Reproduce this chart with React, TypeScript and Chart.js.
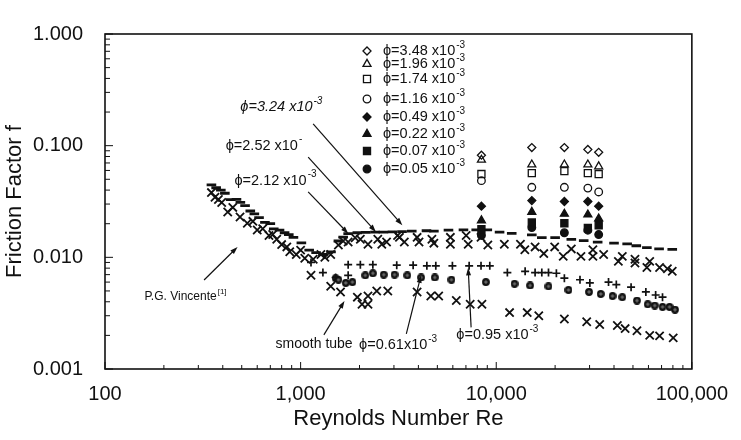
import { useEffect, useRef } from "react";
import { Chart, registerables } from "chart.js";
import { drawPoint } from "chart.js/helpers";

Chart.register(...registerables);

const FONT = "'Liberation Sans', Arial, Helvetica, sans-serif";
const INK = "#111";

// Axis ticks
const X_TICKS = [100, 1000, 10000, 100000];
const Y_TICKS = [0.001, 0.01, 0.1, 1];

// Upper curve drawn as short dash markers
const DASH_RE = [350, 370, 391, 410, 439, 470, 492, 520, 553, 580, 613, 657, 700, 729, 780, 828, 870, 919, 1009, 1106, 1200, 1300, 1430, 1560, 1650, 1750, 1950, 2150, 2400, 2650, 2950, 3300, 3700, 4400, 4800, 5700, 6800, 7900, 9000, 10400, 12000, 15200, 17100, 20000, 24200, 28000, 33000, 40000, 46700, 52000, 58900, 68000, 79400];
const DASH_F = [0.0445, 0.042, 0.04, 0.0375, 0.0329, 0.033, 0.031, 0.029, 0.026, 0.0245, 0.0227, 0.0206, 0.02, 0.018, 0.0175, 0.0166, 0.016, 0.0151, 0.0135, 0.0116, 0.011, 0.0106, 0.0112, 0.014, 0.0152, 0.0163, 0.0166, 0.0167, 0.0168, 0.0168, 0.0169, 0.017, 0.0172, 0.0173, 0.0172, 0.0175, 0.0176, 0.0176, 0.0176, 0.0168, 0.0164, 0.0159, 0.015, 0.015, 0.0145, 0.0141, 0.0137, 0.0134, 0.0132, 0.0127, 0.0122, 0.0119, 0.0118];

// Upper band of x markers
const XUP_RE = [350, 365, 380, 395, 424, 450, 490, 534, 570, 600, 640, 689, 720, 755, 800, 850, 880, 950, 1000, 1050, 1160, 1270, 1330, 1425, 1560, 1650, 1750, 1900, 2020, 2210, 2480, 2600, 2750, 3130, 3200, 3390, 3940, 4030, 4690, 4800, 5830, 5830, 7020, 7190, 8360, 9060, 11000, 13300, 14000, 15800, 17500, 19900, 22000, 24200, 27100, 31200, 31200, 35400, 42100, 44100, 51200, 51200, 58900, 60900, 68400, 75000, 79400];
const XUP_F = [0.038, 0.0345, 0.033, 0.031, 0.0255, 0.028, 0.023, 0.0202, 0.021, 0.0176, 0.018, 0.0157, 0.016, 0.0145, 0.013, 0.0124, 0.0112, 0.0106, 0.0116, 0.0098, 0.0096, 0.0106, 0.01, 0.0106, 0.0129, 0.014, 0.0137, 0.015, 0.0145, 0.0131, 0.0145, 0.0131, 0.0137, 0.0157, 0.0151, 0.0137, 0.0151, 0.0137, 0.0145, 0.0134, 0.0151, 0.0131, 0.0157, 0.0131, 0.0151, 0.0129, 0.0131, 0.0131, 0.0117, 0.0124, 0.0108, 0.0124, 0.0102, 0.0119, 0.0102, 0.0117, 0.0102, 0.0106, 0.0092, 0.0102, 0.0096, 0.0089, 0.0081, 0.0092, 0.0081, 0.0079, 0.0075];

// Middle band of + markers
const PLUS_RE = [1130, 1300, 1510, 1750, 1750, 2020, 2340, 3100, 3760, 4420, 4910, 5970, 7270, 8360, 9270, 11400, 14050, 15800, 17100, 18500, 20300, 22300, 26800, 30100, 37500, 41100, 48900, 58200, 65300, 70800];
const PLUS_F = [0.009, 0.0073, 0.0066, 0.0086, 0.0069, 0.0086, 0.0086, 0.0085, 0.0085, 0.0084, 0.0084, 0.0084, 0.0084, 0.0084, 0.0084, 0.0073, 0.0075, 0.0073, 0.0073, 0.0073, 0.0072, 0.0065, 0.0063, 0.0059, 0.006, 0.0057, 0.0054, 0.0049, 0.0046, 0.0044];

// Middle band of crossed dot markers
const BLOB_RE = [1510, 1560, 1700, 1840, 2140, 2340, 2660, 3020, 3510, 4130, 4850, 5900, 8850, 12400, 14900, 18500, 23400, 29800, 34200, 39300, 44100, 52400, 59500, 64600, 70800, 76900, 82000];
const BLOB_F = [0.0065, 0.0063, 0.0059, 0.006, 0.0069, 0.0072, 0.007, 0.007, 0.0069, 0.0066, 0.0066, 0.0063, 0.006, 0.0058, 0.0056, 0.0055, 0.0051, 0.0049, 0.0047, 0.0045, 0.0044, 0.0041, 0.0038, 0.0037, 0.0036, 0.0036, 0.0034];

// Lower band of x markers
const XLOW_RE = [1130, 1425, 1600, 1950, 2060, 2210, 2210, 2450, 2790, 3940, 4630, 5080, 6250, 7360, 8450, 11700, 14400, 16500, 22300, 29000, 33800, 41600, 45600, 52400, 60900, 68400, 80300];
const XLOW_F = [0.0069, 0.0055, 0.0049, 0.0044, 0.0038, 0.0038, 0.0045, 0.005, 0.005, 0.0049, 0.0045, 0.0045, 0.0041, 0.0038, 0.0038, 0.0032, 0.0032, 0.003, 0.0028, 0.00265, 0.0025, 0.00245, 0.0023, 0.0022, 0.002, 0.00198, 0.0019];

// Volume-fraction series, measured at five Reynolds numbers
const PHI_RE = [8400, 15200, 22300, 29400, 33400];
const PHI_348 = [0.0822, 0.0962, 0.0962, 0.0925, 0.0872];
const PHI_196 = [0.0746, 0.0677, 0.0677, 0.0677, 0.0651];
const PHI_174 = [0.0557, 0.0568, 0.0591, 0.0568, 0.0557];
const PHI_116 = [0.0486, 0.0424, 0.0424, 0.0417, 0.0385];
const PHI_049 = [0.0287, 0.0322, 0.0316, 0.0316, 0.0287];
const PHI_022 = [0.0214, 0.0255, 0.0245, 0.0241, 0.0222];
const PHI_007 = [0.0179, 0.0205, 0.0202, 0.0183, 0.0194];
const PHI_005 = [0.0157, 0.0185, 0.0166, 0.0175, 0.016];

const PHI_LABELS = ["ϕ=3.48 x10", "ϕ=1.96 x10", "ϕ=1.74 x10", "ϕ=1.16 x10", "ϕ=0.49 x10", "ϕ=0.22 x10", "ϕ=0.07 x10", "ϕ=0.05 x10"];
const PHI_VALUES = [PHI_348, PHI_196, PHI_174, PHI_116, PHI_049, PHI_022, PHI_007, PHI_005];
const PHI_STYLES = ["rectRot", "triangle", "rect", "circle", "rectRot", "triangle", "rect", "circle"];
const PHI_FILLED = [false, false, false, false, true, true, true, true];
const PHI_RADIUS = [4, 4.6, 5, 3.8, 4, 4.6, 5, 3.8];

// Callouts: label anchor (Re, f) and arrow from/to in data space
const NOTES = [
  { text: "ϕ=3.24 x10", sup: "-3", at: [492, 0.2226], size: 14.5, italic: true, from: [1159, 0.157], to: [3311, 0.0194] },
  { text: "ϕ=2.52 x10", sup: "-", at: [414, 0.1], size: 14.5, italic: false, from: [1093, 0.0791], to: [2427, 0.0169] },
  { text: "ϕ=2.12 x10", sup: "-3", at: [459, 0.0486], size: 14.5, italic: false, from: [1093, 0.0385], to: [1754, 0.0163] },
  { text: "P.G. Vincente", sup: "[1]", at: [159, 0.0044], size: 12, italic: false, from: [321, 0.00626], to: [476, 0.0124] },
  { text: "smooth tube", sup: "", at: [745, 0.00166], size: 14, italic: false, from: [1315, 0.00202], to: [1676, 0.00407] },
  { text: "ϕ=0.61x10", sup: "-3", at: [1990, 0.00163], size: 14.5, italic: false, from: [3470, 0.00206], to: [4127, 0.0069] },
  { text: "ϕ=0.95 x10", sup: "-3", at: [6250, 0.00202], size: 14.5, italic: false, from: [7440, 0.00236], to: [7187, 0.00807] },
];

const pts = (xs: number[], ys: number[]) => xs.map((x, i) => ({ x, y: ys[i] }));

function makeBlob(): HTMLCanvasElement {
  const c = document.createElement("canvas");
  c.width = 8;
  c.height = 8;
  const g = c.getContext("2d")!;
  g.fillStyle = "#111";
  g.beginPath();
  g.arc(4, 4, 3.9, 0, Math.PI * 2);
  g.fill();
  g.strokeStyle = "rgba(255,255,255,0.4)";
  g.lineWidth = 1;
  g.beginPath();
  g.moveTo(4, 2);
  g.lineTo(4, 6);
  g.moveTo(2, 4);
  g.lineTo(6, 4);
  g.stroke();
  return c;
}

function textWithSup(ctx: CanvasRenderingContext2D, x: number, y: number, base: string, sup: string, size: number, italic: boolean) {
  const st = italic ? "italic " : "";
  ctx.font = `${st}${size}px ${FONT}`;
  ctx.textAlign = "left";
  ctx.textBaseline = "middle";
  ctx.fillText(base, x, y);
  if (!sup) return;
  const w = ctx.measureText(base).width;
  ctx.font = `${st}${Math.round(size * 0.68)}px ${FONT}`;
  ctx.fillText(sup, x + w + 1, y - size * 0.42);
}

function arrow(ctx: CanvasRenderingContext2D, x1: number, y1: number, x2: number, y2: number) {
  const a = Math.atan2(y2 - y1, x2 - x1);
  const head = 8;
  ctx.beginPath();
  ctx.moveTo(x1, y1);
  ctx.lineTo(x2 - Math.cos(a) * 4, y2 - Math.sin(a) * 4);
  ctx.stroke();
  ctx.beginPath();
  ctx.moveTo(x2, y2);
  ctx.lineTo(x2 - head * Math.cos(a - 0.32), y2 - head * Math.sin(a - 0.32));
  ctx.lineTo(x2 - head * Math.cos(a + 0.32), y2 - head * Math.sin(a + 0.32));
  ctx.closePath();
  ctx.fill();
}

const decorations = {
  id: "decorations",
  afterDatasetsDraw(chart: any) {
    const { ctx, chartArea: a, scales } = chart;
    const xs = scales.x;
    const ys = scales.y;
    ctx.save();
    ctx.strokeStyle = INK;
    ctx.fillStyle = INK;

    // frame
    ctx.lineWidth = 1.6;
    ctx.strokeRect(a.left, a.top, a.right - a.left, a.bottom - a.top);

    // inward log ticks
    ctx.lineWidth = 1;
    ctx.beginPath();
    for (const d of [100, 1000, 10000]) {
      for (let k = 2; k <= 9; k++) {
        const px = xs.getPixelForValue(d * k);
        ctx.moveTo(px, a.bottom);
        ctx.lineTo(px, a.bottom - 4);
      }
    }
    for (const v of X_TICKS) {
      const px = xs.getPixelForValue(v);
      ctx.moveTo(px, a.bottom);
      ctx.lineTo(px, a.bottom - 7);
    }
    for (const d of [0.001, 0.01, 0.1]) {
      for (let k = 2; k <= 9; k++) {
        const py = ys.getPixelForValue(d * k);
        ctx.moveTo(a.left, py);
        ctx.lineTo(a.left + 5, py);
      }
    }
    for (const v of Y_TICKS) {
      const py = ys.getPixelForValue(v);
      ctx.moveTo(a.left, py);
      ctx.lineTo(a.left + 8, py);
    }
    ctx.stroke();

    // callouts
    ctx.lineWidth = 1.2;
    for (const n of NOTES) {
      arrow(ctx, xs.getPixelForValue(n.from[0]), ys.getPixelForValue(n.from[1]), xs.getPixelForValue(n.to[0]), ys.getPixelForValue(n.to[1]));
      textWithSup(ctx, xs.getPixelForValue(n.at[0]), ys.getPixelForValue(n.at[1]), n.text, n.sup, n.size, n.italic);
    }

    // legend
    const lx = a.left + 262;
    const rows = [17, 30, 45, 65, 83, 100, 117, 135];
    PHI_LABELS.forEach((label, i) => {
      const ly = a.top + rows[i];
      ctx.lineWidth = 1.3;
      ctx.fillStyle = PHI_FILLED[i] ? INK : "rgba(0,0,0,0)";
      drawPoint(ctx, { pointStyle: PHI_STYLES[i] as any, radius: PHI_RADIUS[i], borderWidth: 1.3, rotation: 0 }, lx, ly);
      ctx.fillStyle = INK;
      textWithSup(ctx, lx + 16, ly, label, "-3", 14.5, false);
    });
    ctx.restore();
  },
};

export default function App() {
  const ref = useRef<HTMLCanvasElement | null>(null);

  useEffect(() => {
    if (!ref.current) return;
    const blob = makeBlob();

    const phiSets = PHI_LABELS.map((label, i) => ({
      label,
      data: pts(PHI_RE, PHI_VALUES[i]),
      pointStyle: PHI_STYLES[i],
      pointRadius: PHI_RADIUS[i],
      pointBorderWidth: 1.3,
      pointBorderColor: INK,
      pointBackgroundColor: PHI_FILLED[i] ? INK : "rgba(0,0,0,0)",
    }));

    const chart = new Chart(ref.current, {
      type: "scatter",
      data: {
        datasets: [
          ...phiSets,
          { label: "upper curve", data: pts(DASH_RE, DASH_F), pointStyle: "line", pointRadius: 4.8, pointBorderWidth: 2.8, pointBorderColor: INK },
          { label: "upper x", data: pts(XUP_RE, XUP_F), pointStyle: "crossRot", pointRadius: 5.8, pointBorderWidth: 1.8, pointBorderColor: INK },
          { label: "plus", data: pts(PLUS_RE, PLUS_F), pointStyle: "cross", pointRadius: 4, pointBorderWidth: 1.7, pointBorderColor: INK },
          { label: "dots", data: pts(BLOB_RE, BLOB_F), pointStyle: blob, pointRadius: 4 },
          { label: "lower x", data: pts(XLOW_RE, XLOW_F), pointStyle: "crossRot", pointRadius: 5.8, pointBorderWidth: 1.8, pointBorderColor: INK },
        ] as any,
      },
      options: {
        responsive: false,
        animation: false,
        devicePixelRatio: 1,
        layout: { padding: { left: 0, top: 15, right: 38, bottom: 0 } },
        plugins: { legend: { display: false }, tooltip: { enabled: false } },
        scales: {
          x: {
            type: "logarithmic",
            min: 100,
            max: 100000,
            afterBuildTicks: (s: any) => {
              s.ticks = X_TICKS.map((value) => ({ value }));
            },
            afterFit: (s: any) => {
              s.height = 71;
            },
            grid: { display: false, drawTicks: false },
            border: { display: false },
            ticks: {
              autoSkip: false,
              maxRotation: 0,
              padding: 13,
              color: INK,
              font: { family: FONT, size: 20 },
              callback: (v: any) => Number(v).toLocaleString("en-US"),
            },
            title: {
              display: true,
              text: "Reynolds Number Re",
              color: INK,
              font: { family: FONT, size: 22 },
              padding: { top: 0, bottom: 8 },
            },
          },
          y: {
            type: "logarithmic",
            min: 0.001,
            max: 1,
            afterBuildTicks: (s: any) => {
              s.ticks = Y_TICKS.map((value) => ({ value }));
            },
            afterFit: (s: any) => {
              s.width = 105;
            },
            grid: { display: false, drawTicks: false },
            border: { display: false },
            ticks: {
              autoSkip: false,
              padding: 22,
              color: INK,
              font: { family: FONT, size: 20 },
              callback: (v: any) => Number(v).toFixed(3),
            },
            title: {
              display: true,
              text: "Friction Factor f",
              color: INK,
              font: { family: FONT, size: 22 },
              padding: { top: 2, bottom: 0 },
            },
          },
        },
      },
      plugins: [decorations],
    });
    return () => chart.destroy();
  }, []);

  return (
    <div style={{ position: "absolute", left: 0, top: 0, width: 741, height: 440, background: "#fff" }}>
      <canvas ref={ref} width={741} height={440} />
    </div>
  );
}
